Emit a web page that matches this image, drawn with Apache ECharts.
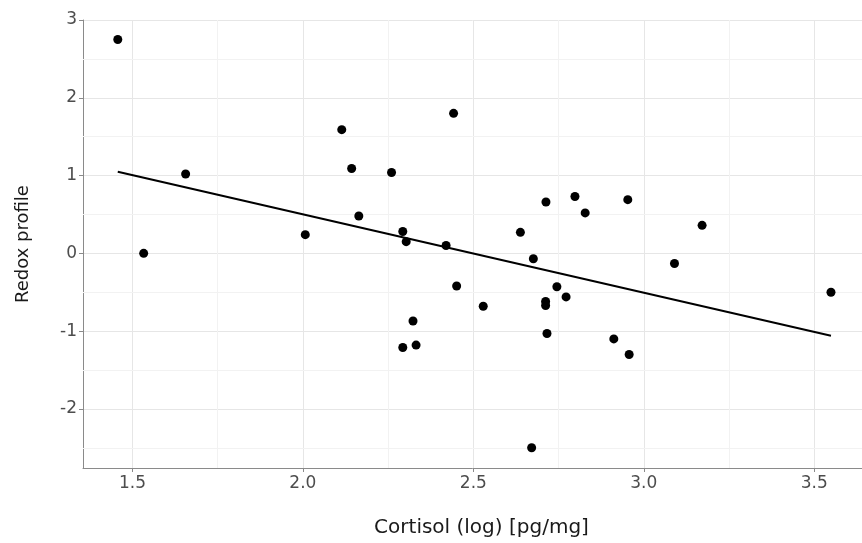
<!DOCTYPE html>
<html>
<head>
<meta charset="utf-8">
<script src="https://cdn.jsdelivr.net/npm/echarts@6/dist/echarts.min.js"></script>
<style>html,body{margin:0;padding:0;background:#fff}#c{width:862px;height:543px}</style>
</head>
<body>
<div id="c"></div>
<script>
const cortisol = [1.457,1.533,1.656,2.007,2.114,2.143,2.164,2.260,2.293,2.303,2.323,2.293,2.332,2.420,2.442,2.451,2.529,2.638,2.676,2.713,2.745,2.772,2.712,2.712,2.716,2.798,2.828,2.953,3.171,3.090,3.549,2.912,2.957,2.671];
const redox = [2.75,0.00,1.02,0.24,1.59,1.09,0.48,1.04,0.28,0.15,-0.87,-1.21,-1.18,0.10,1.80,-0.42,-0.68,0.27,-0.07,0.66,-0.43,-0.56,-0.62,-0.67,-1.03,0.73,0.52,0.69,0.36,-0.13,-0.50,-1.10,-1.30,-2.50];
const fitX = [1.457, 3.549];
const fitY = [1.05, -1.06];
const xTicks = [1.5, 2.0, 2.5, 3.0, 3.5];
const yTicks = [-2, -1, 0, 1, 2, 3];
const xMinor = [1.75, 2.25, 2.75, 3.25];
const yMinor = [-2.5, -1.5, -0.5, 0.5, 1.5, 2.5];

const font = 'DejaVu Sans';
const chart = echarts.init(document.getElementById('c'), null, {renderer: 'canvas'});
chart.setOption({
  animation: false,
  backgroundColor: '#fff',
  grid: {left: 83, right: 0, top: 20, bottom: 74, containLabel: false},
  xAxis: {
    type: 'value', min: 1.355, max: 3.64,
    name: 'Cortisol (log) [pg/mg]', nameLocation: 'middle', nameGap: 50,
    nameTextStyle: {fontFamily: font, fontSize: 20, color: '#1a1a1a', padding: [0, 0, 0, 18]},
    axisLine: {show: true, onZero: false, lineStyle: {color: '#8a8a8a', width: 1}},
    axisTick: {show: true, length: 4, customValues: xTicks, lineStyle: {color: '#8a8a8a'}},
    axisLabel: {customValues: xTicks, fontFamily: font, fontSize: 17, color: '#4d4d4d', margin: 7,
      formatter: v => v.toFixed(1)},
    splitLine: {show: true, lineStyle: {color: '#e6e6e6', width: 1}}
  },
  yAxis: {
    type: 'value', min: -2.76, max: 3,
    name: 'Redox profile', nameLocation: 'middle', nameGap: 51, nameRotate: 90,
    nameTextStyle: {fontFamily: font, fontSize: 18, color: '#1a1a1a'},
    axisLine: {show: true, onZero: false, lineStyle: {color: '#8a8a8a', width: 1}},
    axisTick: {show: true, length: 4, customValues: yTicks, lineStyle: {color: '#8a8a8a'}},
    axisLabel: {customValues: yTicks, fontFamily: font, fontSize: 17, color: '#4d4d4d', margin: 6,
      formatter: v => String(v)},
    splitLine: {show: true, lineStyle: {color: '#e6e6e6', width: 1}}
  },
  series: [
    {
      type: 'line', z: 1, silent: true, symbol: 'none', data: [],
      markLine: {
        z: 1, silent: true, symbol: 'none', animation: false, label: {show: false},
        lineStyle: {color: '#f2f2f2', width: 1, type: 'solid'},
        emphasis: {disabled: true},
        data: xMinor.map(v => ({xAxis: v})).concat(yMinor.map(v => ({yAxis: v})))
      }
    },
    {
      type: 'line', z: 3, symbol: 'none', silent: true,
      lineStyle: {color: '#000', width: 2},
      data: fitX.map((x, i) => [x, fitY[i]])
    },
    {
      type: 'scatter', z: 4, symbol: 'circle', symbolSize: 9,
      itemStyle: {color: '#000', opacity: 1},
      data: cortisol.map((x, i) => [x, redox[i]])
    }
  ]
});
</script>
</body>
</html>
